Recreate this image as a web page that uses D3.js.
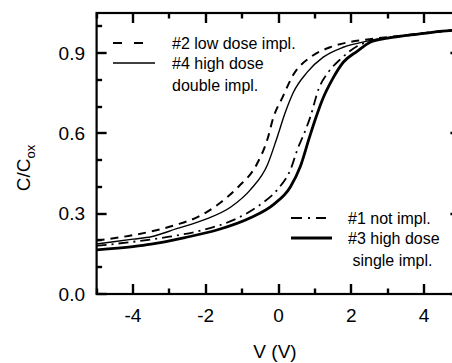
<!DOCTYPE html>
<html>
<head>
<meta charset="utf-8">
<script src="https://cdn.jsdelivr.net/npm/d3@7"></script>
<style>
  html, body { margin: 0; padding: 0; background: #fff; }
  svg { display: block; font-family: 'Liberation Sans', Arial, sans-serif; }
</style>
</head>
<body>
<svg id="chart" width="452" height="363"></svg>
<script>
// #2 low dose impl. (dashed)
const v2 = [-5, -4, -3.3, -2.8, -2.2, -1.6, -1.1, -0.6, -0.3, -0.14, 0.11, 0.41, 0.88, 1.42, 2.1, 2.5, 3, 3.5, 4, 4.5, 5];
const c2 = [0.20, 0.22, 0.24, 0.259, 0.289, 0.341, 0.401, 0.484, 0.58, 0.66, 0.735, 0.82, 0.885, 0.922, 0.945, 0.952, 0.96, 0.967, 0.975, 0.982, 0.987];
// #4 high dose double impl. (thin solid)
const v4 = [-5, -4, -3.5, -2.8, -2.05, -1.3, -0.77, -0.3, -0.05, 0.19, 0.41, 0.79, 1.23, 1.78, 2.44, 3, 3.5, 4, 4.5, 5];
const c4 = [0.187, 0.205, 0.214, 0.244, 0.277, 0.326, 0.39, 0.484, 0.58, 0.68, 0.754, 0.829, 0.885, 0.922, 0.945, 0.958, 0.966, 0.974, 0.982, 0.988];
// #1 not impl. (dash-dot)
const v1 = [-5, -4, -3, -2.05, -1.23, -0.5, -0.03, 0.33, 0.55, 0.66, 0.88, 1.1, 1.37, 1.7, 2.16, 2.52, 3, 3.5, 4, 4.5, 5];
const c1 = [0.18, 0.195, 0.214, 0.24, 0.277, 0.334, 0.39, 0.465, 0.551, 0.585, 0.664, 0.765, 0.829, 0.877, 0.926, 0.945, 0.957, 0.966, 0.974, 0.982, 0.988];
// #3 high dose single impl. (thick solid)
const v3 = [-5, -4, -3.5, -2.6, -1.67, -0.77, -0.14, 0.33, 0.6, 0.85, 1.01, 1.21, 1.48, 1.78, 2.16, 2.52, 3, 3.5, 4, 4.5, 5];
const c3 = [0.165, 0.177, 0.186, 0.21, 0.24, 0.285, 0.334, 0.401, 0.476, 0.585, 0.652, 0.727, 0.802, 0.866, 0.907, 0.941, 0.956, 0.966, 0.974, 0.982, 0.988];

const xTicks = [-4, -2, 0, 2, 4];
const xMinor = [-5, -3, -1, 1, 3, 5];
const yTicks = [0, 0.3, 0.6, 0.9];
const yMinor = [0.1, 0.2, 0.4, 0.5, 0.7, 0.8, 1.0];

const margin = { top: 13, left: 96.6, bottom: 294, right: 460.4 };

const svg = d3.select('#chart');

const x = d3.scaleLinear().domain([-5, 5]).range([margin.left, margin.right]);
const y = d3.scaleLinear().domain([0, 1.05]).range([margin.bottom, margin.top]);

const series = [
  { v: v2, c: c2, width: 2, dash: '8,6' },
  { v: v4, c: c4, width: 1.4, dash: null },
  { v: v1, c: c1, width: 1.8, dash: '10,5,2,5' },
  { v: v3, c: c3, width: 2.8, dash: null }
];

const line = d3.line()
  .x(d => x(d[0]))
  .y(d => y(d[1]))
  .curve(d3.curveMonotoneX);

series.forEach(s => {
  svg.append('path')
    .datum(s.v.map((v, i) => [v, s.c[i]]))
    .attr('fill', 'none')
    .attr('stroke', '#000')
    .attr('stroke-width', s.width)
    .attr('stroke-dasharray', s.dash)
    .attr('stroke-linejoin', 'round')
    .attr('d', line);
});

// ticks point inward on all four sides
const tickGroup = svg.append('g');
const tickLine = (x1, y1, x2, y2) => {
  tickGroup.append('line')
    .attr('x1', x1).attr('y1', y1)
    .attr('x2', x2).attr('y2', y2)
    .attr('stroke', '#000')
    .attr('stroke-width', 2.4);
};
const drawX = (vals, len) => {
  vals.forEach(v => {
    const px = Math.round(x(v));
    tickLine(px, margin.bottom, px, margin.bottom - len);
    tickLine(px, margin.top, px, margin.top + len);
  });
};
const drawY = (vals, len) => {
  vals.forEach(v => {
    const py = Math.round(y(v));
    tickLine(margin.left, py, margin.left + len, py);
    tickLine(margin.right, py, margin.right - len, py);
  });
};
drawX(xTicks, 10);
drawX(xMinor, 5.5);
drawY(yTicks, 10);
drawY(yMinor, 5.5);

svg.append('rect')
  .attr('x', margin.left)
  .attr('y', margin.top)
  .attr('width', margin.right - margin.left)
  .attr('height', margin.bottom - margin.top)
  .attr('fill', 'none')
  .attr('stroke', '#000')
  .attr('stroke-width', 2.2);

// tick labels
svg.selectAll('.xlabel')
  .data(xTicks)
  .enter().append('text')
  .attr('x', d => x(d))
  .attr('y', 322)
  .attr('text-anchor', 'middle')
  .attr('font-size', 19)
  .text(d => String(d));

svg.selectAll('.ylabel')
  .data(yTicks)
  .enter().append('text')
  .attr('x', 85)
  .attr('y', d => y(d))
  .attr('dy', '0.35em')
  .attr('text-anchor', 'end')
  .attr('font-size', 19)
  .text(d => d.toFixed(1));

// axis titles
svg.append('text')
  .attr('x', 275)
  .attr('y', 358)
  .attr('text-anchor', 'middle')
  .attr('font-size', 19)
  .text('V (V)');

const yTitle = svg.append('text')
  .attr('transform', 'translate(30, 168) rotate(-90)')
  .attr('text-anchor', 'middle')
  .attr('font-size', 19);
yTitle.append('tspan').text('C/C');
yTitle.append('tspan').attr('font-size', 13).attr('dy', 5).text('ox');

// legends
const legend = [
  { x1: 113, x2: 143, y: 43, width: 2, dash: '9,12', tx: 172, lines: ['#2 low dose impl.'] },
  { x1: 113, x2: 155, y: 63, width: 1.4, dash: null, tx: 172, lines: ['#4 high dose', 'double impl.'] },
  { x1: 291, x2: 326, y: 218, width: 1.8, dash: '11,6,2,6', tx: 348, lines: ['#1 not impl.'] },
  { x1: 291, x2: 332, y: 238, width: 2.8, dash: null, tx: 348, lines: ['#3 high dose', ' single impl.'] }
];

legend.forEach(l => {
  svg.append('line')
    .attr('x1', l.x1).attr('x2', l.x2)
    .attr('y1', l.y).attr('y2', l.y)
    .attr('stroke', '#000')
    .attr('stroke-width', l.width)
    .attr('stroke-dasharray', l.dash);
  l.lines.forEach((t, i) => {
    svg.append('text')
      .attr('x', l.tx)
      .attr('y', l.y + i * 22)
      .attr('dy', '0.35em')
      .attr('font-size', 16)
      .attr('xml:space', 'preserve')
      .text(t);
  });
});
</script>
</body>
</html>
